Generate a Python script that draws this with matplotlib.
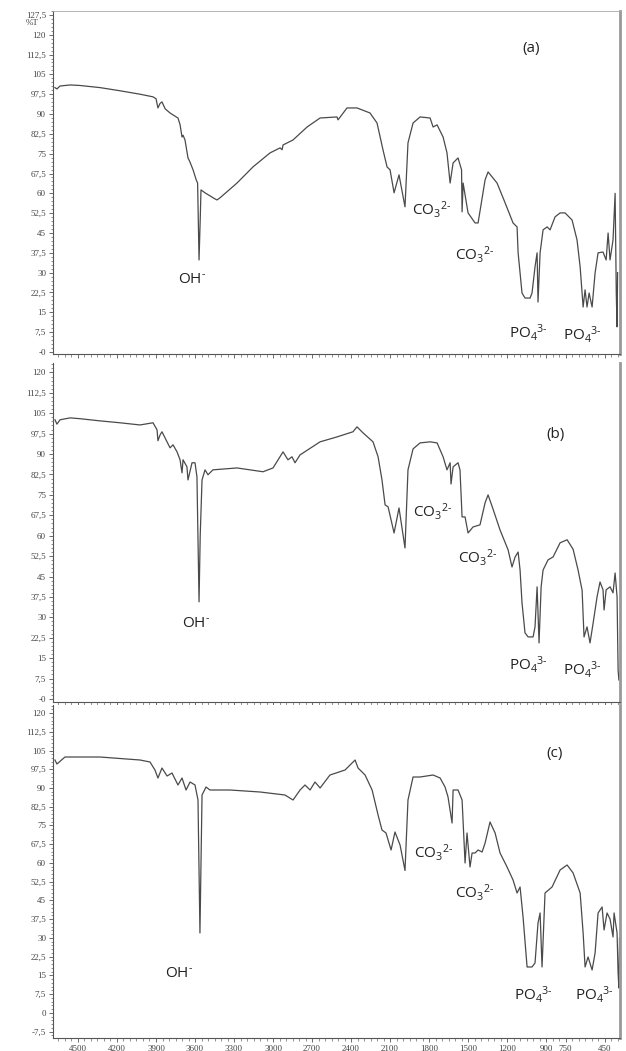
import matplotlib
matplotlib.use("Agg")
import matplotlib.pyplot as plt
from matplotlib.ticker import MultipleLocator, FixedLocator

plt.rcParams['mathtext.fontset'] = 'custom'
plt.rcParams['mathtext.rm'] = 'Open Sans'
plt.rcParams['mathtext.it'] = 'Open Sans'

# spectrum (a)
wn_a = [4677, 4662, 4638, 4560, 4485, 4331, 4177, 4023, 3923, 3900, 3885, 3869, 3854, 3830, 3792, 3770,
        3731, 3715, 3700, 3692, 3677, 3654, 3640, 3615, 3590, 3580, 3569, 3560, 3554, 3523, 3450, 3431,
        3408, 3277, 3154, 3023, 2946, 2930, 2923, 2846, 2738, 2638, 2508, 2500, 2431, 2354, 2254, 2200,
        2154, 2123, 2100, 2069, 2031, 1985, 1962, 1923, 1869, 1792, 1769, 1738, 1692, 1662, 1638, 1615,
        1577, 1550, 1546, 1538, 1500, 1446, 1423, 1369, 1346, 1277, 1215, 1154, 1123, 1115, 1085, 1062,
        1023, 1008, 985, 969, 962, 946, 923, 892, 869, 831, 792, 754, 700, 662, 638, 615, 600, 585, 569,
        546, 523, 500, 462, 438, 423, 408, 385, 369, 360, 354, 350]
t_a = [100.0, 99.5, 100.6, 101.0, 100.8, 100.0, 98.8, 97.5, 96.5, 95.8, 92.3, 94.0, 94.6, 92.0, 90.4, 89.7,
       88.5, 86.0, 81.3, 82.0, 80.2, 73.4, 72.0, 68.9, 65.0, 63.9, 34.8, 50.0, 61.3, 60.2, 58.0, 57.5,
       58.3, 63.9, 70.0, 75.3, 77.2, 76.5, 78.3, 80.2, 85.1, 88.5, 88.9, 87.8, 92.3, 92.3, 90.4, 86.6,
       76.4, 70.0, 68.9, 60.2, 67.0, 54.9, 79.1, 86.6, 88.9, 88.5, 85.1, 85.9, 81.3, 75.3, 63.9, 71.5,
       73.4, 68.9, 53.0, 63.9, 52.6, 48.8, 48.8, 65.1, 68.1, 63.9, 56.4, 48.8, 47.3, 37.5, 22.3, 20.4,
       20.4, 22.3, 32.2, 37.5, 18.9, 37.5, 46.2, 47.3, 46.2, 51.1, 52.6, 52.6, 49.9, 42.4, 32.2, 17.0, 23.5, 17.0, 22.3,
       17.0, 29.9, 37.5, 37.8, 34.8, 45.0, 34.8, 42.4, 60.0, 22.0, 9.5, 30.0]

# spectrum (b)
wn_b = [4677, 4662, 4638, 4560, 4485, 4331, 4177, 4023, 3923, 3892, 3885, 3869, 3854, 3831, 3792, 3769,
        3738, 3715, 3700, 3692, 3662, 3654, 3623, 3600, 3585, 3569, 3560, 3546, 3523, 3500, 3462, 3277,
        3077, 3000, 2923, 2885, 2854, 2831, 2792, 2638, 2508, 2385, 2354, 2308, 2231, 2192, 2162, 2138,
        2115, 2069, 2031, 1985, 1962, 1923, 1869, 1792, 1738, 1692, 1662, 1638, 1631, 1615, 1577, 1562,
        1546, 1523, 1500, 1462, 1408, 1369, 1346, 1308, 1254, 1192, 1162, 1138, 1115, 1100, 1085, 1062,
        1038, 1000, 985, 969, 954, 938, 923, 885, 846, 792, 738, 692, 654, 623, 608, 585, 562, 538, 508,
        485, 462, 454, 438, 408, 385, 369, 354, 346, 340]
t_b = [102.6, 101.0, 102.6, 103.3, 103.0, 102.2, 101.5, 100.7, 101.5, 98.9, 94.9, 97.0, 98.2, 96.0, 92.3, 93.4,
       90.8, 87.9, 83.1, 87.9, 85.3, 80.5, 86.8, 86.8, 81.6, 35.7, 60.0, 80.5, 84.2, 82.4, 84.2, 84.9,
       83.5, 84.9, 90.8, 87.9, 89.0, 86.8, 89.7, 94.5, 96.3, 98.2, 100.0, 97.8, 94.5, 89.0, 80.5, 71.3,
       70.6, 61.0, 70.2, 55.5, 84.2, 91.9, 94.1, 94.5, 94.1, 89.0, 84.2, 86.8, 79.0, 85.3, 86.8, 84.2,
       66.9, 66.9, 61.0, 63.2, 64.0, 72.1, 75.0, 69.8, 62.1, 54.8, 48.5, 52.2, 54.0, 47.4, 35.3, 24.3,
       22.8, 22.8, 26.5, 41.2, 20.6, 41.2, 47.4, 51.1, 52.2, 57.4, 58.5, 55.0, 47.4, 40.0, 22.8, 26.5, 20.6, 27.9, 37.5,
       43.0, 40.1, 32.7, 40.1, 41.2, 39.0, 46.3, 37.5, 10.7, 7.0]

# spectrum (c)
wn_c = [4677, 4662, 4600, 4331, 4023, 3946, 3908, 3885, 3854, 3815, 3777, 3731, 3700, 3669, 3638, 3600,
        3577, 3562, 3546, 3515, 3485, 3331, 3100, 2908, 2846, 2792, 2754, 2715, 2677, 2638, 2562, 2446,
        2369, 2346, 2292, 2238, 2192, 2162, 2131, 2092, 2062, 2023, 1985, 1962, 1923, 1869, 1769, 1715,
        1677, 1654, 1623, 1615, 1577, 1546, 1523, 1508, 1485, 1469, 1446, 1423, 1392, 1369, 1331, 1292,
        1254, 1200, 1154, 1123, 1100, 1077, 1046, 1008, 985, 962, 946, 931, 908, 854, 792, 738, 692, 638,
        615, 600, 577, 546, 523, 500, 469, 454, 431, 408, 385, 377, 354, 346, 340, 335]
t_c = [101.2, 99.6, 102.4, 102.4, 101.2, 100.4, 97.2, 94.0, 98.0, 94.8, 96.0, 91.2, 94.0, 89.2, 92.4, 91.2,
       85.2, 32.0, 87.2, 90.4, 89.2, 89.2, 88.4, 87.2, 85.2, 89.2, 91.2, 89.2, 92.4, 90.0, 95.2, 97.2,
       101.2, 98.0, 95.2, 89.2, 79.2, 73.2, 72.0, 65.2, 72.4, 67.2, 57.0, 85.2, 94.4, 94.4, 95.2, 94.0,
       90.4, 86.4, 76.0, 89.2, 89.2, 85.2, 60.0, 72.0, 58.4, 64.0, 64.0, 65.2, 64.4, 68.0, 76.4, 72.0,
       64.0, 58.4, 53.2, 48.0, 50.4, 38.4, 18.4, 18.4, 20.0, 36.0, 40.0, 18.4, 48.0, 50.4, 57.2, 59.2, 56.0, 48.0,
       32.0, 18.4, 22.4, 17.2, 24.0, 40.0, 42.4, 33.2, 40.0, 37.6, 30.4, 40.0, 32.0, 16.0, 10.0, 30.0]

x_ticks = [4500, 4200, 3900, 3600, 3300, 3000, 2700, 2400, 2100, 1800, 1500, 1200, 900, 750, 450]
panel_names = ['(a)', '(b)', '(c)']

OH = r'OH$^{\text{-}}$'
CO3 = r'CO$_3$$^{\text{2-}}$'
PO4 = r'PO$_4$$^{\text{3-}}$'

# band labels: (text, wavenumber, %T) per panel
labels_a = [(OH, 3731, 26.1), (CO3, 1931, 51.8), (CO3, 1600, 34.8), (PO4, 1185, 5.3), (PO4, 769, 4.5)]
labels_b = [(OH, 3700, 26.5), (CO3, 1923, 66.9), (CO3, 1577, 50.0), (PO4, 1185, 10.7), (PO4, 769, 8.8)]
labels_c = [(OH, 3831, 14.4), (CO3, 1915, 62.0), (CO3, 1600, 46.0), (PO4, 1146, 5.2), (PO4, 677, 5.2)]
name_pos = [(1015, 113.5), (831, 96.0), (831, 102.4)]

fig = plt.figure(figsize=(6.26, 10.51), dpi=100)
boxes = [[0.0847, 0.6632, 0.9058, 0.3264], [0.0847, 0.3321, 0.9058, 0.3226], [0.0847, 0.0124, 0.9058, 0.3168]]
ylims = [(-0.76, 129.0), (-1.1, 123.5), (-10.0, 123.2)]
ytop = [127.5, 120, 120]
ybot = [0, 0, -7.5]
data = [(wn_a, t_a, labels_a), (wn_b, t_b, labels_b), (wn_c, t_c, labels_c)]


def fmt_y(v, dash_zero):
    if abs(v) < 1e-9:
        return '-0' if dash_zero else '0'
    s = ('%.1f' % v).rstrip('0').rstrip('.')
    return s.replace('.', ',')


for i in range(3):
    ax = fig.add_axes(boxes[i])
    wn, t, labs = data[i]
    ax.plot(wn, t, color='#4a4a4a', lw=0.9)
    ax.set_xlim(4692, 331)
    ax.set_ylim(*ylims[i])

    yt = []
    v = ybot[i]
    while v <= ytop[i] + 1e-6:
        yt.append(v)
        v += 7.5
    ax.yaxis.set_major_locator(FixedLocator(yt))
    ax.yaxis.set_minor_locator(MultipleLocator(1.5))
    ax.set_yticklabels([fmt_y(v, i < 2) for v in yt])

    ax.xaxis.set_major_locator(FixedLocator(x_ticks))
    ax.xaxis.set_minor_locator(MultipleLocator(50))
    if i < 2:
        ax.set_xticklabels([])
    else:
        ax.set_xticklabels([str(x) for x in x_ticks])

    ax.tick_params(axis='both', which='major', direction='out', length=3, width=0.6,
                   color='#555555', labelsize=6.5, labelcolor='#444444', pad=2)
    ax.tick_params(axis='both', which='minor', direction='out', length=1.8, width=0.5, color='#666666')
    for lab in ax.get_yticklabels() + ax.get_xticklabels():
        lab.set_family('Liberation Serif')

    for side in ['left', 'bottom']:
        ax.spines[side].set_color('#555555')
        ax.spines[side].set_linewidth(0.8)
    ax.spines['top'].set_color('#aaaaaa')
    ax.spines['top'].set_linewidth(0.6)
    ax.spines['right'].set_color('#999999')
    ax.spines['right'].set_linewidth(2.0)
    if i > 0:
        ax.spines['top'].set_visible(False)

    for txt, x, y in labs:
        ax.text(x, y, txt, fontsize=11, family='Open Sans', color='#222222', ha='left', va='baseline')
    ax.text(name_pos[i][0], name_pos[i][1], panel_names[i], fontsize=11, family='Open Sans',
            color='#222222', ha='center', va='baseline')

    if i == 0:
        ax.text(-0.025, 0.965, '%T', transform=ax.transAxes, fontsize=6.5, family='Liberation Serif',
                color='#444444', ha='right', va='center')

fig.savefig('out.png', dpi=100)
